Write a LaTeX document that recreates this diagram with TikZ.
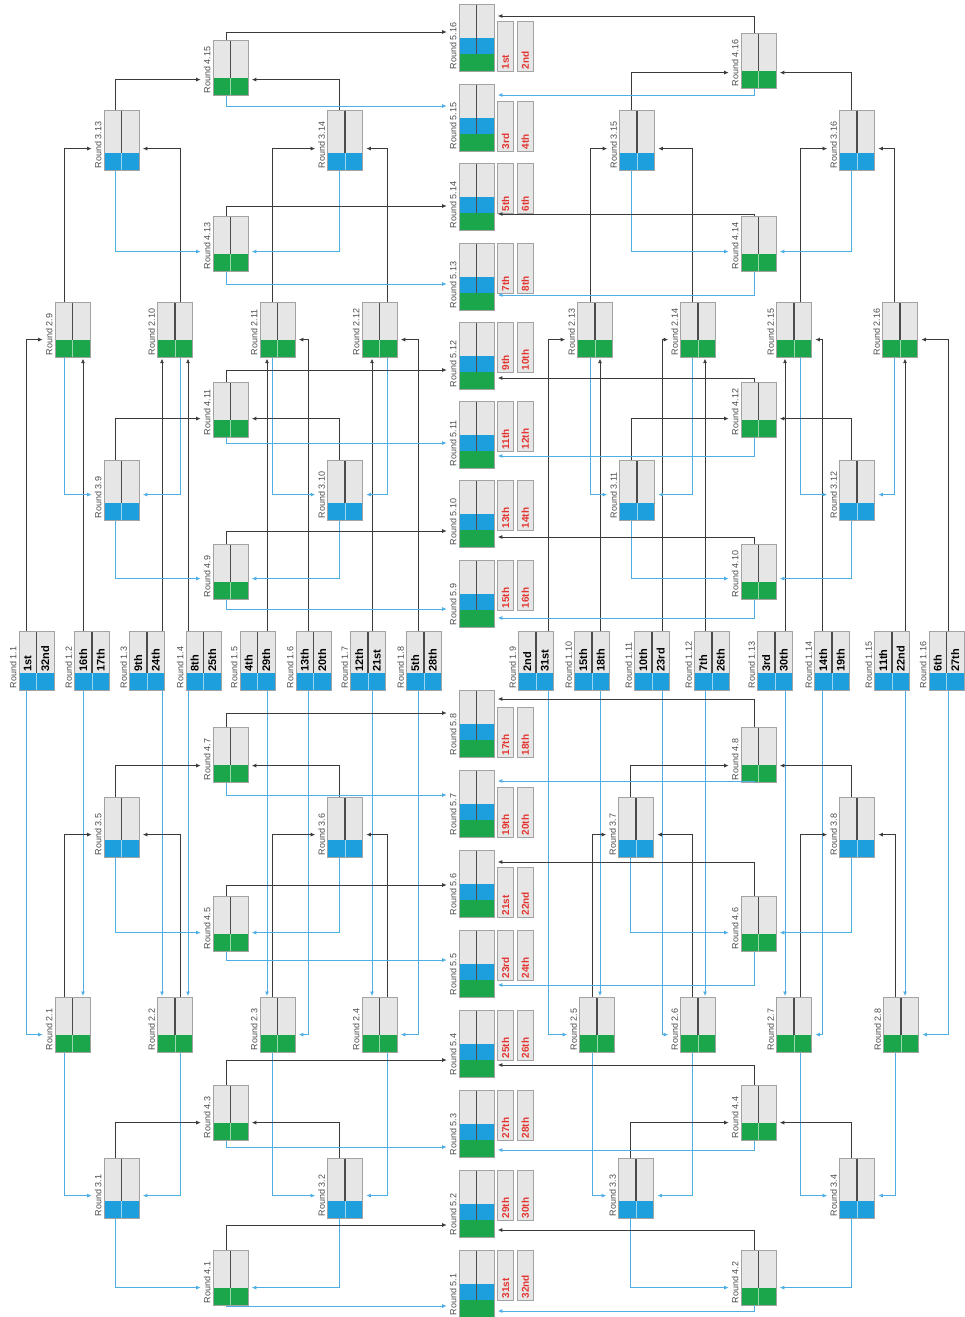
\documentclass[tikz,border=0pt]{standalone}
\usepackage{fontspec}
\setmainfont{Liberation Sans}
\usepackage{tikz}
\usepackage{xcolor}
\usetikzlibrary{arrows.meta}

\definecolor{boxgray}{HTML}{E6E6E6}
\definecolor{edgegray}{HTML}{A3A3A3}
\definecolor{bandblue}{HTML}{1E9FDD}
\definecolor{bandgreen}{HTML}{1CA64C}
\definecolor{winline}{HTML}{3A3A3A}
\definecolor{loseline}{HTML}{4FAEE3}
\definecolor{placered}{HTML}{E3342F}

\begin{document}
\begin{tikzpicture}[x=1pt, y=-1pt,
  game/.style 2 args={draw=edgegray, fill=boxgray, line width=0.6pt, minimum width=35pt, minimum height=#1, inner sep=0pt, anchor=north,
    path picture={
      \fill[#2] (path picture bounding box.south west) rectangle ([yshift=17pt]path picture bounding box.south east);
      \draw[white!55!#2, line width=0.5pt] (path picture bounding box.south) -- ([yshift=17pt]path picture bounding box.south);
      \draw[black!70, line width=1.1pt] (path picture bounding box.north) -- ([yshift=17pt]path picture bounding box.south);
    }},
  final/.style={draw=edgegray, fill=boxgray, line width=0.6pt, minimum width=35pt, minimum height=67pt, inner sep=0pt, anchor=north,
    path picture={
      \fill[bandgreen] (path picture bounding box.south west) rectangle ([yshift=17pt]path picture bounding box.south east);
      \fill[bandblue] ([yshift=17pt]path picture bounding box.south west) rectangle ([yshift=33pt]path picture bounding box.south east);
      \draw[black!70, line width=1.1pt] (path picture bounding box.north) -- ([yshift=17pt]path picture bounding box.south);
    }},
  rlabel/.style={rotate=90, anchor=south west, font=\fontsize{9}{10}\selectfont, text=black!70, inner sep=2pt},
  seed/.style={rotate=90, anchor=west, font=\bfseries\fontsize{11}{12}\selectfont, inner sep=2pt},
  slot/.style={draw=edgegray, fill=boxgray, line width=0.6pt, minimum width=16pt, minimum height=50pt, inner sep=0pt},
  place/.style={rotate=90, anchor=west, text=placered, font=\bfseries\fontsize{10}{11}\selectfont, inner sep=2pt},
  win/.style={draw=winline, line width=0.8pt, -{Latex[length=4.5pt,width=4pt]}},
  lose/.style={draw=loseline, line width=0.8pt, -{Latex[length=4.5pt,width=4pt]}},
  tol/.style={shorten >=12pt},
  tor/.style={shorten >=3.5pt},
  tov/.style={shorten >=1pt}]
\useasboundingbox (0,0) rectangle (965,1317);

\node[game={59pt}{bandblue}] (m1-1) at (36.5,631) {}; \node[rlabel] (l1-1) at (m1-1.south west) {Round 1.1};
\node[game={59pt}{bandblue}] (m1-2) at (92,631) {}; \node[rlabel] (l1-2) at (m1-2.south west) {Round 1.2};
\node[game={59pt}{bandblue}] (m1-3) at (147,631) {}; \node[rlabel] (l1-3) at (m1-3.south west) {Round 1.3};
\node[game={59pt}{bandblue}] (m1-4) at (203.5,631) {}; \node[rlabel] (l1-4) at (m1-4.south west) {Round 1.4};
\node[game={59pt}{bandblue}] (m1-5) at (257.5,631) {}; \node[rlabel] (l1-5) at (m1-5.south west) {Round 1.5};
\node[game={59pt}{bandblue}] (m1-6) at (313.5,631) {}; \node[rlabel] (l1-6) at (m1-6.south west) {Round 1.6};
\node[game={59pt}{bandblue}] (m1-7) at (368,631) {}; \node[rlabel] (l1-7) at (m1-7.south west) {Round 1.7};
\node[game={59pt}{bandblue}] (m1-8) at (424,631) {}; \node[rlabel] (l1-8) at (m1-8.south west) {Round 1.8};
\node[game={59pt}{bandblue}] (m1-9) at (536,631) {}; \node[rlabel] (l1-9) at (m1-9.south west) {Round 1.9};
\node[game={59pt}{bandblue}] (m1-10) at (592,631) {}; \node[rlabel] (l1-10) at (m1-10.south west) {Round 1.10};
\node[game={59pt}{bandblue}] (m1-11) at (652,631) {}; \node[rlabel] (l1-11) at (m1-11.south west) {Round 1.11};
\node[game={59pt}{bandblue}] (m1-12) at (712,631) {}; \node[rlabel] (l1-12) at (m1-12.south west) {Round 1.12};
\node[game={59pt}{bandblue}] (m1-13) at (775,631) {}; \node[rlabel] (l1-13) at (m1-13.south west) {Round 1.13};
\node[game={59pt}{bandblue}] (m1-14) at (832,631) {}; \node[rlabel] (l1-14) at (m1-14.south west) {Round 1.14};
\node[game={59pt}{bandblue}] (m1-15) at (892,631) {}; \node[rlabel] (l1-15) at (m1-15.south west) {Round 1.15};
\node[game={59pt}{bandblue}] (m1-16) at (946.5,631) {}; \node[rlabel] (l1-16) at (m1-16.south west) {Round 1.16};

\node[seed] (s1-1a) at ([xshift=-8.75pt,yshift=17pt]m1-1.south) {1st}; \node[seed] (s1-1b) at ([xshift=8.75pt,yshift=17pt]m1-1.south) {32nd};
\node[seed] (s1-2a) at ([xshift=-8.75pt,yshift=17pt]m1-2.south) {16th}; \node[seed] (s1-2b) at ([xshift=8.75pt,yshift=17pt]m1-2.south) {17th};
\node[seed] (s1-3a) at ([xshift=-8.75pt,yshift=17pt]m1-3.south) {9th}; \node[seed] (s1-3b) at ([xshift=8.75pt,yshift=17pt]m1-3.south) {24th};
\node[seed] (s1-4a) at ([xshift=-8.75pt,yshift=17pt]m1-4.south) {8th}; \node[seed] (s1-4b) at ([xshift=8.75pt,yshift=17pt]m1-4.south) {25th};
\node[seed] (s1-5a) at ([xshift=-8.75pt,yshift=17pt]m1-5.south) {4th}; \node[seed] (s1-5b) at ([xshift=8.75pt,yshift=17pt]m1-5.south) {29th};
\node[seed] (s1-6a) at ([xshift=-8.75pt,yshift=17pt]m1-6.south) {13th}; \node[seed] (s1-6b) at ([xshift=8.75pt,yshift=17pt]m1-6.south) {20th};
\node[seed] (s1-7a) at ([xshift=-8.75pt,yshift=17pt]m1-7.south) {12th}; \node[seed] (s1-7b) at ([xshift=8.75pt,yshift=17pt]m1-7.south) {21st};
\node[seed] (s1-8a) at ([xshift=-8.75pt,yshift=17pt]m1-8.south) {5th}; \node[seed] (s1-8b) at ([xshift=8.75pt,yshift=17pt]m1-8.south) {28th};
\node[seed] (s1-9a) at ([xshift=-8.75pt,yshift=17pt]m1-9.south) {2nd}; \node[seed] (s1-9b) at ([xshift=8.75pt,yshift=17pt]m1-9.south) {31st};
\node[seed] (s1-10a) at ([xshift=-8.75pt,yshift=17pt]m1-10.south) {15th}; \node[seed] (s1-10b) at ([xshift=8.75pt,yshift=17pt]m1-10.south) {18th};
\node[seed] (s1-11a) at ([xshift=-8.75pt,yshift=17pt]m1-11.south) {10th}; \node[seed] (s1-11b) at ([xshift=8.75pt,yshift=17pt]m1-11.south) {23rd};
\node[seed] (s1-12a) at ([xshift=-8.75pt,yshift=17pt]m1-12.south) {7th}; \node[seed] (s1-12b) at ([xshift=8.75pt,yshift=17pt]m1-12.south) {26th};
\node[seed] (s1-13a) at ([xshift=-8.75pt,yshift=17pt]m1-13.south) {3rd}; \node[seed] (s1-13b) at ([xshift=8.75pt,yshift=17pt]m1-13.south) {30th};
\node[seed] (s1-14a) at ([xshift=-8.75pt,yshift=17pt]m1-14.south) {14th}; \node[seed] (s1-14b) at ([xshift=8.75pt,yshift=17pt]m1-14.south) {19th};
\node[seed] (s1-15a) at ([xshift=-8.75pt,yshift=17pt]m1-15.south) {11th}; \node[seed] (s1-15b) at ([xshift=8.75pt,yshift=17pt]m1-15.south) {22nd};
\node[seed] (s1-16a) at ([xshift=-8.75pt,yshift=17pt]m1-16.south) {6th}; \node[seed] (s1-16b) at ([xshift=8.75pt,yshift=17pt]m1-16.south) {27th};

\node[game={55pt}{bandgreen}] (m2-9) at (72.5,302) {}; \node[rlabel] (l2-9) at (m2-9.south west) {Round 2.9};
\node[game={55pt}{bandgreen}] (m2-10) at (175,302) {}; \node[rlabel] (l2-10) at (m2-10.south west) {Round 2.10};
\node[game={55pt}{bandgreen}] (m2-11) at (277.5,302) {}; \node[rlabel] (l2-11) at (m2-11.south west) {Round 2.11};
\node[game={55pt}{bandgreen}] (m2-12) at (379.5,302) {}; \node[rlabel] (l2-12) at (m2-12.south west) {Round 2.12};
\node[game={55pt}{bandgreen}] (m2-13) at (595,302) {}; \node[rlabel] (l2-13) at (m2-13.south west) {Round 2.13};
\node[game={55pt}{bandgreen}] (m2-14) at (698,302) {}; \node[rlabel] (l2-14) at (m2-14.south west) {Round 2.14};
\node[game={55pt}{bandgreen}] (m2-15) at (794,302) {}; \node[rlabel] (l2-15) at (m2-15.south west) {Round 2.15};
\node[game={55pt}{bandgreen}] (m2-16) at (900,302) {}; \node[rlabel] (l2-16) at (m2-16.south west) {Round 2.16};
\node[game={55pt}{bandgreen}] (m2-1) at (72.5,997) {}; \node[rlabel] (l2-1) at (m2-1.south west) {Round 2.1};
\node[game={55pt}{bandgreen}] (m2-2) at (175,997) {}; \node[rlabel] (l2-2) at (m2-2.south west) {Round 2.2};
\node[game={55pt}{bandgreen}] (m2-3) at (277.5,997) {}; \node[rlabel] (l2-3) at (m2-3.south west) {Round 2.3};
\node[game={55pt}{bandgreen}] (m2-4) at (379.5,997) {}; \node[rlabel] (l2-4) at (m2-4.south west) {Round 2.4};
\node[game={55pt}{bandgreen}] (m2-5) at (597,997) {}; \node[rlabel] (l2-5) at (m2-5.south west) {Round 2.5};
\node[game={55pt}{bandgreen}] (m2-6) at (698,997) {}; \node[rlabel] (l2-6) at (m2-6.south west) {Round 2.6};
\node[game={55pt}{bandgreen}] (m2-7) at (794,997) {}; \node[rlabel] (l2-7) at (m2-7.south west) {Round 2.7};
\node[game={55pt}{bandgreen}] (m2-8) at (901,997) {}; \node[rlabel] (l2-8) at (m2-8.south west) {Round 2.8};

\node[game={60pt}{bandblue}] (m3-13) at (121.5,110) {}; \node[rlabel] (l3-13) at (m3-13.south west) {Round 3.13};
\node[game={60pt}{bandblue}] (m3-14) at (345,110) {}; \node[rlabel] (l3-14) at (m3-14.south west) {Round 3.14};
\node[game={60pt}{bandblue}] (m3-15) at (637,110) {}; \node[rlabel] (l3-15) at (m3-15.south west) {Round 3.15};
\node[game={60pt}{bandblue}] (m3-16) at (857,110) {}; \node[rlabel] (l3-16) at (m3-16.south west) {Round 3.16};
\node[game={60pt}{bandblue}] (m3-9) at (121.5,460) {}; \node[rlabel] (l3-9) at (m3-9.south west) {Round 3.9};
\node[game={60pt}{bandblue}] (m3-10) at (345,460) {}; \node[rlabel] (l3-10) at (m3-10.south west) {Round 3.10};
\node[game={60pt}{bandblue}] (m3-11) at (637,460) {}; \node[rlabel] (l3-11) at (m3-11.south west) {Round 3.11};
\node[game={60pt}{bandblue}] (m3-12) at (857,460) {}; \node[rlabel] (l3-12) at (m3-12.south west) {Round 3.12};
\node[game={60pt}{bandblue}] (m3-5) at (121.5,797) {}; \node[rlabel] (l3-5) at (m3-5.south west) {Round 3.5};
\node[game={60pt}{bandblue}] (m3-6) at (345,797) {}; \node[rlabel] (l3-6) at (m3-6.south west) {Round 3.6};
\node[game={60pt}{bandblue}] (m3-7) at (636,797) {}; \node[rlabel] (l3-7) at (m3-7.south west) {Round 3.7};
\node[game={60pt}{bandblue}] (m3-8) at (857,797) {}; \node[rlabel] (l3-8) at (m3-8.south west) {Round 3.8};
\node[game={60pt}{bandblue}] (m3-1) at (121.5,1158) {}; \node[rlabel] (l3-1) at (m3-1.south west) {Round 3.1};
\node[game={60pt}{bandblue}] (m3-2) at (345,1158) {}; \node[rlabel] (l3-2) at (m3-2.south west) {Round 3.2};
\node[game={60pt}{bandblue}] (m3-3) at (636,1158) {}; \node[rlabel] (l3-3) at (m3-3.south west) {Round 3.3};
\node[game={60pt}{bandblue}] (m3-4) at (857,1158) {}; \node[rlabel] (l3-4) at (m3-4.south west) {Round 3.4};

\node[game={55pt}{bandgreen}] (m4-15) at (230.5,40) {}; \node[rlabel] (l4-15) at (m4-15.south west) {Round 4.15};
\node[game={55pt}{bandgreen}] (m4-16) at (758.5,33) {}; \node[rlabel] (l4-16) at (m4-16.south west) {Round 4.16};
\node[game={55pt}{bandgreen}] (m4-13) at (230.5,216) {}; \node[rlabel] (l4-13) at (m4-13.south west) {Round 4.13};
\node[game={55pt}{bandgreen}] (m4-14) at (758.5,216) {}; \node[rlabel] (l4-14) at (m4-14.south west) {Round 4.14};
\node[game={55pt}{bandgreen}] (m4-11) at (230.5,382) {}; \node[rlabel] (l4-11) at (m4-11.south west) {Round 4.11};
\node[game={55pt}{bandgreen}] (m4-12) at (758.5,382) {}; \node[rlabel] (l4-12) at (m4-12.south west) {Round 4.12};
\node[game={55pt}{bandgreen}] (m4-9) at (230.5,544) {}; \node[rlabel] (l4-9) at (m4-9.south west) {Round 4.9};
\node[game={55pt}{bandgreen}] (m4-10) at (758.5,544) {}; \node[rlabel] (l4-10) at (m4-10.south west) {Round 4.10};
\node[game={55pt}{bandgreen}] (m4-7) at (230.5,727) {}; \node[rlabel] (l4-7) at (m4-7.south west) {Round 4.7};
\node[game={55pt}{bandgreen}] (m4-8) at (758.5,727) {}; \node[rlabel] (l4-8) at (m4-8.south west) {Round 4.8};
\node[game={55pt}{bandgreen}] (m4-5) at (230.5,896) {}; \node[rlabel] (l4-5) at (m4-5.south west) {Round 4.5};
\node[game={55pt}{bandgreen}] (m4-6) at (758.5,896) {}; \node[rlabel] (l4-6) at (m4-6.south west) {Round 4.6};
\node[game={55pt}{bandgreen}] (m4-3) at (230.5,1085) {}; \node[rlabel] (l4-3) at (m4-3.south west) {Round 4.3};
\node[game={55pt}{bandgreen}] (m4-4) at (758.5,1085) {}; \node[rlabel] (l4-4) at (m4-4.south west) {Round 4.4};
\node[game={55pt}{bandgreen}] (m4-1) at (230.5,1250) {}; \node[rlabel] (l4-1) at (m4-1.south west) {Round 4.1};
\node[game={55pt}{bandgreen}] (m4-2) at (758.5,1250) {}; \node[rlabel] (l4-2) at (m4-2.south west) {Round 4.2};

\node[final] (m5-16) at (476.5,4) {}; \node[rlabel] (l5-16) at (m5-16.south west) {Round 5.16};
\node[final] (m5-15) at (476.5,84) {}; \node[rlabel] (l5-15) at (m5-15.south west) {Round 5.15};
\node[final] (m5-14) at (476.5,163) {}; \node[rlabel] (l5-14) at (m5-14.south west) {Round 5.14};
\node[final] (m5-13) at (476.5,243) {}; \node[rlabel] (l5-13) at (m5-13.south west) {Round 5.13};
\node[final] (m5-12) at (476.5,322) {}; \node[rlabel] (l5-12) at (m5-12.south west) {Round 5.12};
\node[final] (m5-11) at (476.5,401) {}; \node[rlabel] (l5-11) at (m5-11.south west) {Round 5.11};
\node[final] (m5-10) at (476.5,480) {}; \node[rlabel] (l5-10) at (m5-10.south west) {Round 5.10};
\node[final] (m5-9) at (476.5,560) {}; \node[rlabel] (l5-9) at (m5-9.south west) {Round 5.9};
\node[final] (m5-8) at (476.5,690) {}; \node[rlabel] (l5-8) at (m5-8.south west) {Round 5.8};
\node[final] (m5-7) at (476.5,770) {}; \node[rlabel] (l5-7) at (m5-7.south west) {Round 5.7};
\node[final] (m5-6) at (476.5,850) {}; \node[rlabel] (l5-6) at (m5-6.south west) {Round 5.6};
\node[final] (m5-5) at (476.5,930) {}; \node[rlabel] (l5-5) at (m5-5.south west) {Round 5.5};
\node[final] (m5-4) at (476.5,1010) {}; \node[rlabel] (l5-4) at (m5-4.south west) {Round 5.4};
\node[final] (m5-3) at (476.5,1090) {}; \node[rlabel] (l5-3) at (m5-3.south west) {Round 5.3};
\node[final] (m5-2) at (476.5,1170) {}; \node[rlabel] (l5-2) at (m5-2.south west) {Round 5.2};
\node[final] (m5-1) at (476.5,1250) {}; \node[rlabel] (l5-1) at (m5-1.south west) {Round 5.1};

\node[slot, anchor=south west] (p5-16a) at ([xshift=3pt]m5-16.south east) {}; \node[slot, anchor=south west] (p5-16b) at ([xshift=3pt]p5-16a.south east) {};
\node[slot, anchor=south west] (p5-15a) at ([xshift=3pt]m5-15.south east) {}; \node[slot, anchor=south west] (p5-15b) at ([xshift=3pt]p5-15a.south east) {};
\node[slot, anchor=north west] (p5-14a) at ([xshift=3pt]m5-14.north east) {}; \node[slot, anchor=north west] (p5-14b) at ([xshift=3pt]p5-14a.north east) {};
\node[slot, anchor=north west] (p5-13a) at ([xshift=3pt]m5-13.north east) {}; \node[slot, anchor=north west] (p5-13b) at ([xshift=3pt]p5-13a.north east) {};
\node[slot, anchor=north west] (p5-12a) at ([xshift=3pt]m5-12.north east) {}; \node[slot, anchor=north west] (p5-12b) at ([xshift=3pt]p5-12a.north east) {};
\node[slot, anchor=north west] (p5-11a) at ([xshift=3pt]m5-11.north east) {}; \node[slot, anchor=north west] (p5-11b) at ([xshift=3pt]p5-11a.north east) {};
\node[slot, anchor=north west] (p5-10a) at ([xshift=3pt]m5-10.north east) {}; \node[slot, anchor=north west] (p5-10b) at ([xshift=3pt]p5-10a.north east) {};
\node[slot, anchor=north west] (p5-9a) at ([xshift=3pt]m5-9.north east) {}; \node[slot, anchor=north west] (p5-9b) at ([xshift=3pt]p5-9a.north east) {};
\node[slot, anchor=south west] (p5-8a) at ([xshift=3pt]m5-8.south east) {}; \node[slot, anchor=south west] (p5-8b) at ([xshift=3pt]p5-8a.south east) {};
\node[slot, anchor=south west] (p5-7a) at ([xshift=3pt]m5-7.south east) {}; \node[slot, anchor=south west] (p5-7b) at ([xshift=3pt]p5-7a.south east) {};
\node[slot, anchor=south west] (p5-6a) at ([xshift=3pt]m5-6.south east) {}; \node[slot, anchor=south west] (p5-6b) at ([xshift=3pt]p5-6a.south east) {};
\node[slot, anchor=north west] (p5-5a) at ([xshift=3pt]m5-5.north east) {}; \node[slot, anchor=north west] (p5-5b) at ([xshift=3pt]p5-5a.north east) {};
\node[slot, anchor=north west] (p5-4a) at ([xshift=3pt]m5-4.north east) {}; \node[slot, anchor=north west] (p5-4b) at ([xshift=3pt]p5-4a.north east) {};
\node[slot, anchor=north west] (p5-3a) at ([xshift=3pt]m5-3.north east) {}; \node[slot, anchor=north west] (p5-3b) at ([xshift=3pt]p5-3a.north east) {};
\node[slot, anchor=north west] (p5-2a) at ([xshift=3pt]m5-2.north east) {}; \node[slot, anchor=north west] (p5-2b) at ([xshift=3pt]p5-2a.north east) {};
\node[slot, anchor=north west] (p5-1a) at ([xshift=3pt]m5-1.north east) {}; \node[slot, anchor=north west] (p5-1b) at ([xshift=3pt]p5-1a.north east) {};

\node[place] (t5-16a) at (p5-16a.south) {1st}; \node[place] (t5-16b) at (p5-16b.south) {2nd};
\node[place] (t5-15a) at (p5-15a.south) {3rd}; \node[place] (t5-15b) at (p5-15b.south) {4th};
\node[place] (t5-14a) at (p5-14a.south) {5th}; \node[place] (t5-14b) at (p5-14b.south) {6th};
\node[place] (t5-13a) at (p5-13a.south) {7th}; \node[place] (t5-13b) at (p5-13b.south) {8th};
\node[place] (t5-12a) at (p5-12a.south) {9th}; \node[place] (t5-12b) at (p5-12b.south) {10th};
\node[place] (t5-11a) at (p5-11a.south) {11th}; \node[place] (t5-11b) at (p5-11b.south) {12th};
\node[place] (t5-10a) at (p5-10a.south) {13th}; \node[place] (t5-10b) at (p5-10b.south) {14th};
\node[place] (t5-9a) at (p5-9a.south) {15th}; \node[place] (t5-9b) at (p5-9b.south) {16th};
\node[place] (t5-8a) at (p5-8a.south) {17th}; \node[place] (t5-8b) at (p5-8b.south) {18th};
\node[place] (t5-7a) at (p5-7a.south) {19th}; \node[place] (t5-7b) at (p5-7b.south) {20th};
\node[place] (t5-6a) at (p5-6a.south) {21st}; \node[place] (t5-6b) at (p5-6b.south) {22nd};
\node[place] (t5-5a) at (p5-5a.south) {23rd}; \node[place] (t5-5b) at (p5-5b.south) {24th};
\node[place] (t5-4a) at (p5-4a.south) {25th}; \node[place] (t5-4b) at (p5-4b.south) {26th};
\node[place] (t5-3a) at (p5-3a.south) {27th}; \node[place] (t5-3b) at (p5-3b.south) {28th};
\node[place] (t5-2a) at (p5-2a.south) {29th}; \node[place] (t5-2b) at (p5-2b.south) {30th};
\node[place] (t5-1a) at (p5-1a.south) {31st}; \node[place] (t5-1b) at (p5-1b.south) {32nd};

\coordinate (x1-1) at ([xshift=-10.5pt]m1-1.center);
\coordinate (x1-2) at ([xshift=-9pt]m1-2.center);
\coordinate (x1-3) at ([xshift=15pt]m1-3.center);
\coordinate (x1-4) at ([xshift=-15.5pt]m1-4.center);
\coordinate (x1-5) at ([xshift=9.5pt]m1-5.center);
\coordinate (x1-6) at ([xshift=-5.5pt]m1-6.center);
\coordinate (x1-7) at ([xshift=4pt]m1-7.center);
\coordinate (x1-8) at ([xshift=-6pt]m1-8.center);
\coordinate (x1-9) at ([xshift=12pt]m1-9.center);
\coordinate (x1-10) at ([xshift=8pt]m1-10.center);
\coordinate (x1-11) at ([xshift=10pt]m1-11.center);
\coordinate (x1-12) at ([xshift=-7pt]m1-12.center);
\coordinate (x1-13) at ([xshift=10pt]m1-13.center);
\coordinate (x1-14) at ([xshift=-10pt]m1-14.center);
\coordinate (x1-15) at ([xshift=13pt]m1-15.center);
\coordinate (x1-16) at ([xshift=1.5pt]m1-16.center);
\coordinate (x2-9) at ([xshift=-8.5pt]m2-9.center); \coordinate (x2-1) at ([xshift=-8.5pt]m2-1.center);
\coordinate (x2-10) at ([xshift=5pt]m2-10.center); \coordinate (x2-2) at ([xshift=5pt]m2-2.center);
\coordinate (x2-11) at ([xshift=-5.5pt]m2-11.center); \coordinate (x2-3) at ([xshift=-5.5pt]m2-3.center);
\coordinate (x2-12) at ([xshift=7.5pt]m2-12.center); \coordinate (x2-4) at ([xshift=7.5pt]m2-4.center);
\coordinate (x2-13) at ([xshift=-5pt]m2-13.center); \coordinate (x2-5) at ([xshift=-5pt]m2-5.center);
\coordinate (x2-14) at ([xshift=-6pt]m2-14.center); \coordinate (x2-6) at ([xshift=-6pt]m2-6.center);
\coordinate (x2-15) at ([xshift=6pt]m2-15.center); \coordinate (x2-7) at ([xshift=6pt]m2-7.center);
\coordinate (x2-16) at ([xshift=-6pt]m2-16.center); \coordinate (x2-8) at ([xshift=-6pt]m2-8.center);
\coordinate (x3-13) at ([xshift=-6pt]m3-13.center); \coordinate (x3-14) at ([xshift=-6pt]m3-14.center);
\coordinate (x3-15) at ([xshift=-6pt]m3-15.center); \coordinate (x3-16) at ([xshift=-6pt]m3-16.center);
\coordinate (x3-9) at ([xshift=-6pt]m3-9.center); \coordinate (x3-10) at ([xshift=-6pt]m3-10.center);
\coordinate (x3-11) at ([xshift=-6pt]m3-11.center); \coordinate (x3-12) at ([xshift=-6pt]m3-12.center);
\coordinate (x3-5) at ([xshift=-6pt]m3-5.center); \coordinate (x3-6) at ([xshift=-6pt]m3-6.center);
\coordinate (x3-7) at ([xshift=-6pt]m3-7.center); \coordinate (x3-8) at ([xshift=-6pt]m3-8.center);
\coordinate (x3-1) at ([xshift=-6pt]m3-1.center); \coordinate (x3-2) at ([xshift=-6pt]m3-2.center);
\coordinate (x3-3) at ([xshift=-6pt]m3-3.center); \coordinate (x3-4) at ([xshift=-6pt]m3-4.center);
\coordinate (x4-15) at ([xshift=-4pt]m4-15.center); \coordinate (x4-16) at ([xshift=-4pt]m4-16.center);
\coordinate (x4-13) at ([xshift=-4pt]m4-13.center); \coordinate (x4-14) at ([xshift=-4pt]m4-14.center);
\coordinate (x4-11) at ([xshift=-4pt]m4-11.center); \coordinate (x4-12) at ([xshift=-4pt]m4-12.center);
\coordinate (x4-9) at ([xshift=-4pt]m4-9.center); \coordinate (x4-10) at ([xshift=-4pt]m4-10.center);
\coordinate (x4-7) at ([xshift=-4pt]m4-7.center); \coordinate (x4-8) at ([xshift=-4pt]m4-8.center);
\coordinate (x4-5) at ([xshift=-4pt]m4-5.center); \coordinate (x4-6) at ([xshift=-4pt]m4-6.center);
\coordinate (x4-3) at ([xshift=-4pt]m4-3.center); \coordinate (x4-4) at ([xshift=-4pt]m4-4.center);
\coordinate (x4-1) at ([xshift=-4pt]m4-1.center); \coordinate (x4-2) at ([xshift=-4pt]m4-2.center);

\draw[win,tol] (x1-1 |- m1-1.north) |- ([yshift=18pt]m2-9.south west);
\draw[win,tov] (x1-2 |- m1-2.north) -- (x1-2 |- m2-9.south);
\draw[win,tov] (x1-3 |- m1-3.north) -- (x1-3 |- m2-10.south);
\draw[win,tov] (x1-4 |- m1-4.north) -- (x1-4 |- m2-10.south);
\draw[win,tov] (x1-5 |- m1-5.north) -- (x1-5 |- m2-11.south);
\draw[win,tor] (x1-6 |- m1-6.north) |- ([yshift=18pt]m2-11.south east);
\draw[win,tov] (x1-7 |- m1-7.north) -- (x1-7 |- m2-12.south);
\draw[win,tor] (x1-8 |- m1-8.north) |- ([yshift=18pt]m2-12.south east);
\draw[win,tol] (x1-9 |- m1-9.north) |- ([yshift=18pt]m2-13.south west);
\draw[win,tov] (x1-10 |- m1-10.north) -- (x1-10 |- m2-13.south);
\draw[win,tol] (x1-11 |- m1-11.north) |- ([yshift=18pt]m2-14.south west);
\draw[win,tov] (x1-12 |- m1-12.north) -- (x1-12 |- m2-14.south);
\draw[win,tov] (x1-13 |- m1-13.north) -- (x1-13 |- m2-15.south);
\draw[win,tor] (x1-14 |- m1-14.north) |- ([yshift=18pt]m2-15.south east);
\draw[win,tov] (x1-15 |- m1-15.north) -- (x1-15 |- m2-16.south);
\draw[win,tor] (x1-16 |- m1-16.north) |- ([yshift=18pt]m2-16.south east);

\draw[lose,tol] (x1-1 |- m1-1.south) |- ([yshift=18pt]m2-1.south west);
\draw[lose,tov] (x1-2 |- m1-2.south) -- (x1-2 |- m2-1.north);
\draw[lose,tov] (x1-3 |- m1-3.south) -- (x1-3 |- m2-2.north);
\draw[lose,tov] (x1-4 |- m1-4.south) -- (x1-4 |- m2-2.north);
\draw[lose,tov] (x1-5 |- m1-5.south) -- (x1-5 |- m2-3.north);
\draw[lose,tor] (x1-6 |- m1-6.south) |- ([yshift=18pt]m2-3.south east);
\draw[lose,tov] (x1-7 |- m1-7.south) -- (x1-7 |- m2-4.north);
\draw[lose,tor] (x1-8 |- m1-8.south) |- ([yshift=18pt]m2-4.south east);
\draw[lose,tol] (x1-9 |- m1-9.south) |- ([yshift=18pt]m2-5.south west);
\draw[lose,tov] (x1-10 |- m1-10.south) -- (x1-10 |- m2-5.north);
\draw[lose,tol] (x1-11 |- m1-11.south) |- ([yshift=18pt]m2-6.south west);
\draw[lose,tov] (x1-12 |- m1-12.south) -- (x1-12 |- m2-6.north);
\draw[lose,tov] (x1-13 |- m1-13.south) -- (x1-13 |- m2-7.north);
\draw[lose,tor] (x1-14 |- m1-14.south) |- ([yshift=18pt]m2-7.south east);
\draw[lose,tov] (x1-15 |- m1-15.south) -- (x1-15 |- m2-8.north);
\draw[lose,tor] (x1-16 |- m1-16.south) |- ([yshift=18pt]m2-8.south east);

\draw[win,tol] (x2-9 |- m2-9.north) |- ([yshift=22pt]m3-13.south west);
\draw[win,tor] (x2-10 |- m2-10.north) |- ([yshift=22pt]m3-13.south east);
\draw[win,tol] (x2-11 |- m2-11.north) |- ([yshift=22pt]m3-14.south west);
\draw[win,tor] (x2-12 |- m2-12.north) |- ([yshift=22pt]m3-14.south east);
\draw[win,tol] (x2-13 |- m2-13.north) |- ([yshift=22pt]m3-15.south west);
\draw[win,tor] (x2-14 |- m2-14.north) |- ([yshift=22pt]m3-15.south east);
\draw[win,tol] (x2-15 |- m2-15.north) |- ([yshift=22pt]m3-16.south west);
\draw[win,tor] (x2-16 |- m2-16.north) |- ([yshift=22pt]m3-16.south east);
\draw[lose,tol] (x2-9 |- m2-9.south) |- ([yshift=26pt]m3-9.south west);
\draw[lose,tor] (x2-10 |- m2-10.south) |- ([yshift=26pt]m3-9.south east);
\draw[lose,tol] (x2-11 |- m2-11.south) |- ([yshift=26pt]m3-10.south west);
\draw[lose,tor] (x2-12 |- m2-12.south) |- ([yshift=26pt]m3-10.south east);
\draw[lose,tol] (x2-13 |- m2-13.south) |- ([yshift=26pt]m3-11.south west);
\draw[lose,tor] (x2-14 |- m2-14.south) |- ([yshift=26pt]m3-11.south east);
\draw[lose,tol] (x2-15 |- m2-15.south) |- ([yshift=26pt]m3-12.south west);
\draw[lose,tor] (x2-16 |- m2-16.south) |- ([yshift=26pt]m3-12.south east);

\draw[win,tol] (x2-1 |- m2-1.north) |- ([yshift=23pt]m3-5.south west);
\draw[win,tor] (x2-2 |- m2-2.north) |- ([yshift=23pt]m3-5.south east);
\draw[win,tol] (x2-3 |- m2-3.north) |- ([yshift=23pt]m3-6.south west);
\draw[win,tor] (x2-4 |- m2-4.north) |- ([yshift=23pt]m3-6.south east);
\draw[win,tol] (x2-5 |- m2-5.north) |- ([yshift=23pt]m3-7.south west);
\draw[win,tor] (x2-6 |- m2-6.north) |- ([yshift=23pt]m3-7.south east);
\draw[win,tol] (x2-7 |- m2-7.north) |- ([yshift=23pt]m3-8.south west);
\draw[win,tor] (x2-8 |- m2-8.north) |- ([yshift=23pt]m3-8.south east);
\draw[lose,tol] (x2-1 |- m2-1.south) |- ([yshift=23pt]m3-1.south west);
\draw[lose,tor] (x2-2 |- m2-2.south) |- ([yshift=23pt]m3-1.south east);
\draw[lose,tol] (x2-3 |- m2-3.south) |- ([yshift=23pt]m3-2.south west);
\draw[lose,tor] (x2-4 |- m2-4.south) |- ([yshift=23pt]m3-2.south east);
\draw[lose,tol] (x2-5 |- m2-5.south) |- ([yshift=23pt]m3-3.south west);
\draw[lose,tor] (x2-6 |- m2-6.south) |- ([yshift=23pt]m3-3.south east);
\draw[lose,tol] (x2-7 |- m2-7.south) |- ([yshift=23pt]m3-4.south west);
\draw[lose,tor] (x2-8 |- m2-8.south) |- ([yshift=23pt]m3-4.south east);

\draw[win,tol] (x3-13 |- m3-13.north) |- ([yshift=16pt]m4-15.south west);
\draw[win,tor] (x3-14 |- m3-14.north) |- ([yshift=16pt]m4-15.south east);
\draw[win,tol] (x3-15 |- m3-15.north) |- ([yshift=16pt]m4-16.south west);
\draw[win,tor] (x3-16 |- m3-16.north) |- ([yshift=16pt]m4-16.south east);
\draw[lose,tol] (x3-13 |- m3-13.south) |- ([yshift=20pt]m4-13.south west);
\draw[lose,tor] (x3-14 |- m3-14.south) |- ([yshift=20pt]m4-13.south east);
\draw[lose,tol] (x3-15 |- m3-15.south) |- ([yshift=20pt]m4-14.south west);
\draw[lose,tor] (x3-16 |- m3-16.south) |- ([yshift=20pt]m4-14.south east);
\draw[win,tol] (x3-9 |- m3-9.north) |- ([yshift=19pt]m4-11.south west);
\draw[win,tor] (x3-10 |- m3-10.north) |- ([yshift=19pt]m4-11.south east);
\draw[win,tol] (x3-11 |- m3-11.north) |- ([yshift=19pt]m4-12.south west);
\draw[win,tor] (x3-12 |- m3-12.north) |- ([yshift=19pt]m4-12.south east);
\draw[lose,tol] (x3-9 |- m3-9.south) |- ([yshift=21pt]m4-9.south west);
\draw[lose,tor] (x3-10 |- m3-10.south) |- ([yshift=21pt]m4-9.south east);
\draw[lose,tol] (x3-11 |- m3-11.south) |- ([yshift=21pt]m4-10.south west);
\draw[lose,tor] (x3-12 |- m3-12.south) |- ([yshift=21pt]m4-10.south east);
\draw[win,tol] (x3-5 |- m3-5.north) |- ([yshift=17pt]m4-7.south west);
\draw[win,tor] (x3-6 |- m3-6.north) |- ([yshift=17pt]m4-7.south east);
\draw[win,tol] (x3-7 |- m3-7.north) |- ([yshift=17pt]m4-8.south west);
\draw[win,tor] (x3-8 |- m3-8.north) |- ([yshift=17pt]m4-8.south east);
\draw[lose,tol] (x3-5 |- m3-5.south) |- ([yshift=19pt]m4-5.south west);
\draw[lose,tor] (x3-6 |- m3-6.south) |- ([yshift=19pt]m4-5.south east);
\draw[lose,tol] (x3-7 |- m3-7.south) |- ([yshift=19pt]m4-6.south west);
\draw[lose,tor] (x3-8 |- m3-8.south) |- ([yshift=19pt]m4-6.south east);
\draw[win,tol] (x3-1 |- m3-1.north) |- ([yshift=18pt]m4-3.south west);
\draw[win,tor] (x3-2 |- m3-2.north) |- ([yshift=18pt]m4-3.south east);
\draw[win,tol] (x3-3 |- m3-3.north) |- ([yshift=18pt]m4-4.south west);
\draw[win,tor] (x3-4 |- m3-4.north) |- ([yshift=18pt]m4-4.south east);
\draw[lose,tol] (x3-1 |- m3-1.south) |- ([yshift=18pt]m4-1.south west);
\draw[lose,tor] (x3-2 |- m3-2.south) |- ([yshift=18pt]m4-1.south east);
\draw[lose,tol] (x3-3 |- m3-3.south) |- ([yshift=18pt]m4-2.south west);
\draw[lose,tor] (x3-4 |- m3-4.south) |- ([yshift=18pt]m4-2.south east);

\draw[win,tol] (x4-15 |- m4-15.north) |- ([yshift=-28pt]m5-16.north west);
\draw[win,tor] (x4-16 |- m4-16.north) |- ([yshift=-12pt]m5-16.north east);
\draw[lose,tol] (x4-15 |- m4-15.south) |- ([yshift=-22pt]m5-15.north west);
\draw[lose,tor] (x4-16 |- m4-16.south) |- ([yshift=-11pt]m5-15.north east);
\draw[win,tol] (x4-13 |- m4-13.north) |- ([yshift=-43pt]m5-14.north west);
\draw[win,tor] (x4-14 |- m4-14.north) |- ([yshift=-51pt]m5-14.north east);
\draw[lose,tol] (x4-13 |- m4-13.south) |- ([yshift=-41pt]m5-13.north west);
\draw[lose,tor] (x4-14 |- m4-14.south) |- ([yshift=-52pt]m5-13.north east);
\draw[win,tol] (x4-11 |- m4-11.north) |- ([yshift=-48pt]m5-12.north west);
\draw[win,tor] (x4-12 |- m4-12.north) |- ([yshift=-56pt]m5-12.north east);
\draw[lose,tol] (x4-11 |- m4-11.south) |- ([yshift=-42pt]m5-11.north west);
\draw[lose,tor] (x4-12 |- m4-12.south) |- ([yshift=-55pt]m5-11.north east);
\draw[win,tol] (x4-9 |- m4-9.north) |- ([yshift=-51pt]m5-10.north west);
\draw[win,tor] (x4-10 |- m4-10.north) |- ([yshift=-57pt]m5-10.north east);
\draw[lose,tol] (x4-9 |- m4-9.south) |- ([yshift=-49pt]m5-9.north west);
\draw[lose,tor] (x4-10 |- m4-10.south) |- ([yshift=-58pt]m5-9.north east);
\draw[win,tol] (x4-7 |- m4-7.north) |- ([yshift=-23pt]m5-8.north west);
\draw[win,tor] (x4-8 |- m4-8.north) |- ([yshift=-9pt]m5-8.north east);
\draw[lose,tol] (x4-7 |- m4-7.south) |- ([yshift=-25pt]m5-7.north west);
\draw[lose,tor] (x4-8 |- m4-8.south) |- ([yshift=-11pt]m5-7.north east);
\draw[win,tol] (x4-5 |- m4-5.north) |- ([yshift=-35pt]m5-6.north west);
\draw[win,tor] (x4-6 |- m4-6.north) |- ([yshift=-12pt]m5-6.north east);
\draw[lose,tol] (x4-5 |- m4-5.south) |- ([yshift=-30pt]m5-5.north west);
\draw[lose,tor] (x4-6 |- m4-6.south) |- ([yshift=-55pt]m5-5.north east);
\draw[win,tol] (x4-3 |- m4-3.north) |- ([yshift=-50pt]m5-4.north west);
\draw[win,tor] (x4-4 |- m4-4.north) |- ([yshift=-55pt]m5-4.north east);
\draw[lose,tol] (x4-3 |- m4-3.south) |- ([yshift=-57pt]m5-3.north west);
\draw[lose,tor] (x4-4 |- m4-4.south) |- ([yshift=-60pt]m5-3.north east);
\draw[win,tol] (x4-1 |- m4-1.north) |- ([yshift=-55pt]m5-2.north west);
\draw[win,tor] (x4-2 |- m4-2.north) |- ([yshift=-60pt]m5-2.north east);
\draw[lose,tol] (x4-1 |- m4-1.south) |- ([yshift=-56pt]m5-1.north west);
\draw[lose,tor] (x4-2 |- m4-2.south) |- ([yshift=-61pt]m5-1.north east);
\end{tikzpicture}
\end{document}
